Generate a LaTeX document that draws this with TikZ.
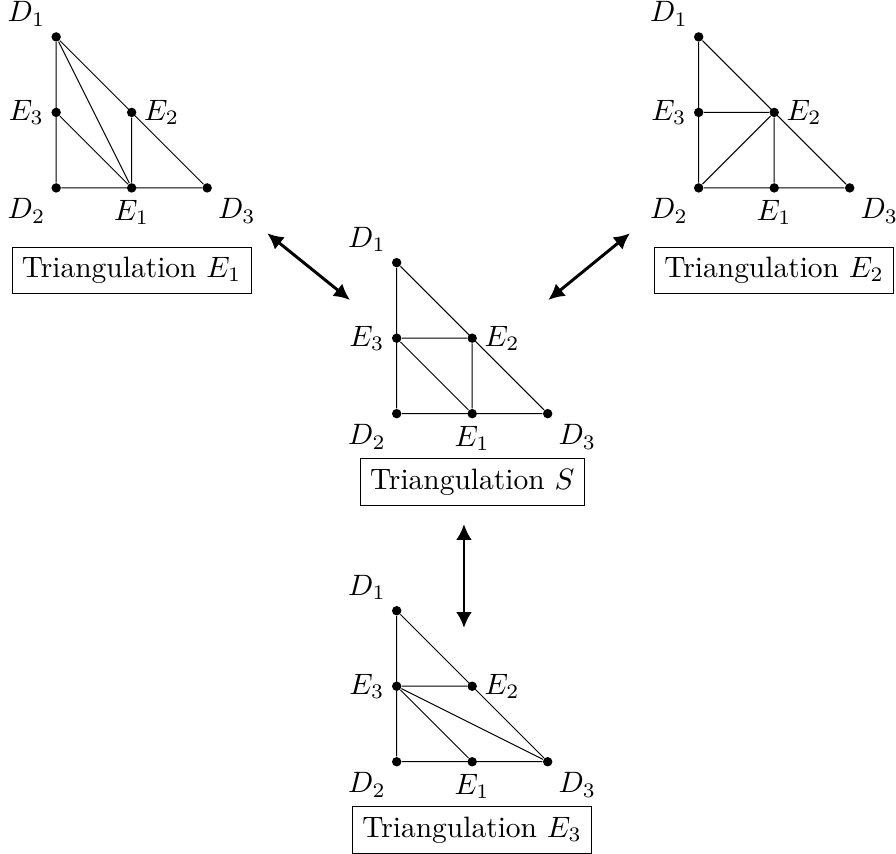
\documentclass[tikz,border=0pt]{standalone}
\usetikzlibrary{arrows.meta}
% the six corner points of one triangle, with their tags
\newcommand{\corners}{%
  \foreach \l/\i/\x/\y/\w in {D/1/0/2/above left, D/2/0/0/below left, D/3/2/0/below right,
                             E/1/1/0/below, E/2/1/1/right, E/3/0/1/left}
    \node[pt,label={[name=\l\i-tag]\w:$\l_\i$}] (\l\i) at (\x,\y) {};}
\begin{document}
\begin{tikzpicture}[x=0.9cm,y=0.9cm,scale=1.2,every node/.style={transform shape},
  every label/.style={inner sep=2.2pt},
  pt/.style={circle,fill,inner sep=0pt,minimum size=3.2pt},
  caption/.style={draw},
  flip/.style={{Latex[length=6.5pt,width=6.5pt]}-{Latex[length=6.5pt,width=6.5pt]},very thick}]
\useasboundingbox (-5.254,-5.832) rectangle (6.613,5.479);
% triangulation E1
\begin{scope}[shift={(-4.51,2.99)},name prefix=te1-]
\corners
\draw (D1) -- (D2) -- (D3) -- (D1);
\draw (E3) -- (E1) (D1) -- (E1) (E2) -- (E1);
\node[caption] (cap) at (1,-1.09) {Triangulation $E_1$};
\end{scope}
% triangulation E2
\begin{scope}[shift={(4.0,2.99)},name prefix=te2-]
\corners
\draw (D1) -- (D2) -- (D3) -- (D1);
\draw (E3) -- (E2) (D2) -- (E2) (E2) -- (E1);
\node[caption] (cap) at (1,-1.09) {Triangulation $E_2$};
\end{scope}
% triangulation S
\begin{scope}[name prefix=ts-]
\corners
\draw (D1) -- (D2) -- (D3) -- (D1);
\draw (E3) -- (E2) -- (E1) -- (E3);
\node[caption] (cap) at (1,-0.905) {Triangulation $S$};
\end{scope}
% triangulation E3
\begin{scope}[shift={(0,-4.61)},name prefix=te3-]
\corners
\draw (D1) -- (D2) -- (D3) -- (D1);
\draw (E3) -- (E2) (E3) -- (E1) (E3) -- (D3);
\node[caption] (cap) at (1,-0.905) {Triangulation $E_3$};
\end{scope}
% flips
\coordinate (f1a) at (-1.714,2.389);
\coordinate (f1b) at (-0.619,1.506);
\coordinate (f2a) at (3.09,2.389);
\coordinate (f2b) at (2.008,1.506);
\coordinate (f3a) at (0.891,-1.461);
\coordinate (f3b) at (0.891,-2.838);
\draw[flip] (f1a) -- (f1b);
\draw[flip] (f2a) -- (f2b);
\draw[flip] (f3a) -- (f3b);
\end{tikzpicture}
\end{document}
